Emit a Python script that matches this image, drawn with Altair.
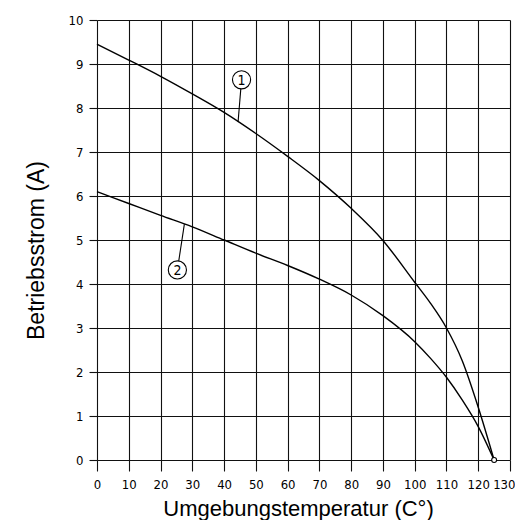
import altair as alt
import pandas as pd

# ---- data ----
temps = [0, 10, 20, 30, 40, 50, 60, 70, 80, 90, 100, 105, 110, 115, 120, 125]
curve1 = [9.45, 9.09, 8.72, 8.32, 7.9, 7.42, 6.9, 6.35, 5.72, 4.99, 4.04, 3.56, 3.0, 2.25, 1.2, 0.0]
curve2 = [6.1, 5.83, 5.56, 5.3, 5.0, 4.7, 4.42, 4.11, 3.75, 3.28, 2.69, 2.31, 1.88, 1.36, 0.76, 0.0]

label_names = ["1", "2"]
label_x = [45.5, 25.3]
label_y = [8.64, 4.32]
leader_x_end = [44.4, 27.5]
leader_y_end = [7.68, 5.36]

end_x = [125]
end_y = [0]

x_ticks = list(range(0, 131, 10))
y_ticks = list(range(0, 11, 1))

x_title = "Umgebungstemperatur (C°)"
y_title = "Betriebsstrom (A)"

# ---- tables ----
rows = []
for t, a in zip(temps, curve1):
    rows.append({"temp": t, "strom": a, "curve": "1"})
for t, b in zip(temps, curve2):
    rows.append({"temp": t, "strom": b, "curve": "2"})
df = pd.DataFrame(rows)

lab = pd.DataFrame({"name": label_names, "x": label_x, "y": label_y,
                    "x2": leader_x_end, "y2": leader_y_end})
endp = pd.DataFrame({"x": end_x, "y": end_y})

NARROW = "DejaVu Sans Condensed, Liberation Sans Narrow, sans-serif"
SANS = "Liberation Sans, Arial, Helvetica, sans-serif"
GRID = "#111111"

xscale = alt.Scale(domain=[0, 130], nice=False, zero=False)
yscale = alt.Scale(domain=[0, 10], nice=False, zero=False)

xaxis = alt.Axis(values=x_ticks, grid=True, gridColor=GRID, gridWidth=1.1, gridOpacity=1,
                 ticks=True, tickColor=GRID, tickWidth=1.1, tickSize=11,
                 domain=False, labelFont=NARROW, labelFontSize=13, labelColor="black",
                 labelPadding=7, labelOverlap=False, labelFlush=False,
                 labelAlign=alt.condition("datum.value == 130", alt.value("right"), alt.value("center")),
                 labelOffset=alt.condition("datum.value == 130", alt.value(5), alt.value(0)),
                 labelSeparation=0,
                 title=x_title, titleFont=SANS, titleFontSize=22,
                 titleFontWeight="normal", titleColor="black",
                 titleBaseline="alphabetic", titleY=55, titleX=201)
yaxis = alt.Axis(values=y_ticks, grid=True, gridColor=GRID, gridWidth=1.1, gridOpacity=1,
                 ticks=True, tickColor=GRID, tickWidth=1.1, tickSize=8,
                 domain=False, labelFont=NARROW, labelFontSize=13, labelColor="black",
                 labelPadding=6, labelOverlap=False, labelFlush=False,
                 title=y_title, titleFont=SANS, titleFontSize=23,
                 titleFontWeight="normal", titleColor="black",
                 titleBaseline="alphabetic", titleX=-54, titleY=230, titleAngle=270)

lines = alt.Chart(df).mark_line(color="black", strokeWidth=1.4, interpolate="monotone").encode(
    x=alt.X("temp:Q", scale=xscale, axis=xaxis),
    y=alt.Y("strom:Q", scale=yscale, axis=yaxis),
    detail="curve:N",
)

X = alt.X("x:Q", scale=xscale, axis=xaxis)
Y = alt.Y("y:Q", scale=yscale, axis=yaxis)

leaders = alt.Chart(lab).mark_rule(color="black", strokeWidth=1.1).encode(
    x=X, y=Y, x2="x2:Q", y2="y2:Q"
)

circles = alt.Chart(lab).mark_point(shape="circle", filled=True, fill="white",
                                    stroke="black", strokeWidth=1.1, size=330,
                                    opacity=1).encode(x=X, y=Y)

texts = alt.Chart(lab).mark_text(font=NARROW, fontSize=14, color="black",
                                 baseline="middle", align="center", dy=1).encode(
    x=X, y=Y, text="name:N"
)

endpoint = alt.Chart(endp).mark_point(shape="circle", filled=True, fill="white",
                                      stroke="black", strokeWidth=1.1, size=24,
                                      opacity=1).encode(x=X, y=Y)

chart = alt.layer(lines, leaders, circles, texts, endpoint).properties(
    width=413, height=440,
    background="white",
    autosize=alt.AutoSizeParams(type="none"),
    padding={"left": 89, "top": 12, "right": 5, "bottom": 60},
).configure_axis(labelOverlap=False).configure_view(stroke=None)

chart.save("out.html", embed_options={"renderer": "svg", "actions": False})
